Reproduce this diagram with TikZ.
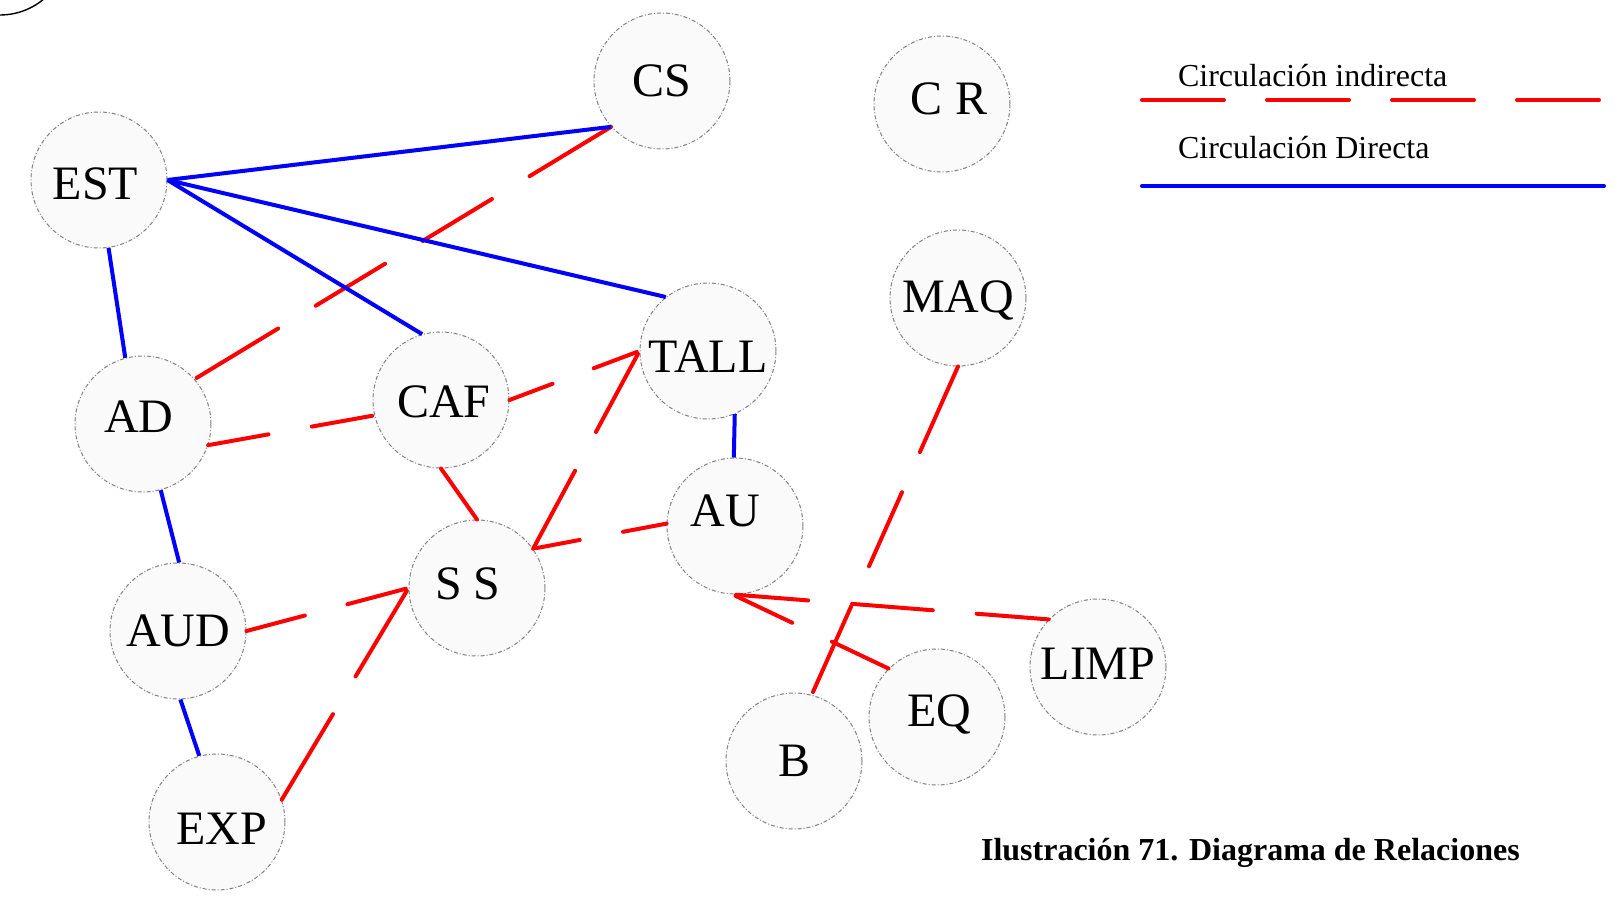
\documentclass[tikz,border=0pt]{standalone}
\usepackage{fontspec}
\setmainfont{Liberation Serif}

\begin{document}
\begin{tikzpicture}[
    x=0.5pt, y=-0.5pt,
    area/.style={circle, draw=gray, line width=0.5pt, dash pattern=on 2pt off 1pt on 0.5pt off 1pt,
                 fill=black!2, minimum size=68pt, inner sep=0pt},
    every label/.append style={font=\fontsize{24}{28}\selectfont, inner sep=0pt},
    directa/.style={blue, line width=2pt},
    indirecta/.style={red, line width=2pt, line cap=round},
    ind/.style={indirecta, dash pattern=on #1 off 22pt},
    leyenda/.style={anchor=base west, font=\fontsize{16}{19}\selectfont},
]
\useasboundingbox (0,0) rectangle (1617,899);

% circulo cortado en la esquina
\node[circle, draw, line width=0.7pt, minimum size=68pt, inner sep=0pt] (esq) at (0,-53) {};

% Areas
\node[area, label={center:CS}] (CS) at (662,81) {};
\node[area, label={[xshift=3.5pt, yshift=2.5pt]center:C R}] (CR) at (942,104) {};
\node[area, label={[xshift=-1.75pt, yshift=-1.75pt]center:EST}] (EST) at (99,180) {};
\node[area, label={[yshift=-1pt]center:MAQ}] (MAQ) at (958,298) {};
\node[area, label={[yshift=-2.75pt]center:TALL}] (TALL) at (708,351) {};
\node[area, label={[xshift=-2pt, yshift=3.5pt]center:AD}] (AD) at (143,424) {};
\node[area, label={[xshift=1.5pt, yshift=-1pt]center:CAF}] (CAF) at (441,400) {};
\node[area, label={[xshift=-4.75pt, yshift=7.5pt]center:AU}] (AU) at (735,526) {};
\node[area, label={[xshift=-4.5pt, yshift=2pt]center:S S}] (SS) at (477,588) {};
\node[area, label={center:AUD}] (AUD) at (178,631) {};
\node[area, label={[yshift=1.5pt]center:LIMP}] (LIMP) at (1098,667) {};
\node[area, label={[xshift=1pt, yshift=1.5pt]center:EQ}] (EQ) at (937,717) {};
\node[area, label={center:B}] (B) at (794,761) {};
\node[area, label={[xshift=2.25pt, yshift=-3.5pt]center:EXP}] (EXP) at (217,822) {};

% Circulacion indirecta (rojo, discontinua)
\draw[indirecta, dash pattern=on 47.65pt off 22pt on 40.5pt off 22pt on 40.5pt off 22pt on 47.65pt off 22pt]
    (CS.222) -- (AD.41);
\draw[ind=30.65pt] (AD.342) -- (CAF.193);
\draw[ind=23pt]    (CAF.east) -- (TALL.west);
\draw[indirecta]   (CAF.270) -- (SS.90);
\draw[ind=44.3pt]  (SS.35) -- (TALL.west);
\draw[ind=22.15pt] (AU.178) -- (SS.35);
\draw[ind=30.2pt]  (AUD.east) -- (SS.west);
\draw[ind=49.85pt] (EXP.19) -- (SS.west);
\draw[indirecta, dash pattern=on 46.85pt off 22pt on 40.5pt off 22pt on 46.85pt off 22pt]
    (MAQ.south) -- (B.75);
\draw[ind=31.35pt] (EQ.135) -- (AU.268);
\draw[indirecta, dash pattern=on 36.15pt off 22pt on 40.5pt off 22pt on 36.15pt off 22pt]
    (LIMP.136) -- (AU.268);

% Circulacion directa (azul)
\draw[directa] (EST.east) -- (CS.222);
\draw[directa] (EST.east) -- (CAF.106);
\draw[directa] (EST.east) -- (TALL.128);
\draw[directa] (EST.278) -- (AD.105);
\draw[directa] (AD.285) -- (AUD.89);
\draw[directa] (AUD.272) -- (EXP.105);
\draw[directa] (TALL.293) -- (AU.91);

% Leyenda
\node[leyenda] (txtind) at (1171,87)  {Circulación indirecta};
\node[leyenda] (txtdir) at (1171,158) {Circulación Directa};
\coordinate (ind1) at (1142,100);
\coordinate (ind2) at (1604,100);
\coordinate (dir1) at (1142,186);
\coordinate (dir2) at (1604,186);
\draw[indirecta, dash pattern=on 41pt off 21.5pt] (ind1) -- (ind2);
\draw[directa, line cap=round] (dir1) -- (dir2);

% Titulo
\node[anchor=base west, font=\fontsize{16}{19}\selectfont\bfseries] (titulo) at (974,860)
    {Ilustración 71. Diagrama de Relaciones};

\end{tikzpicture}
\end{document}
